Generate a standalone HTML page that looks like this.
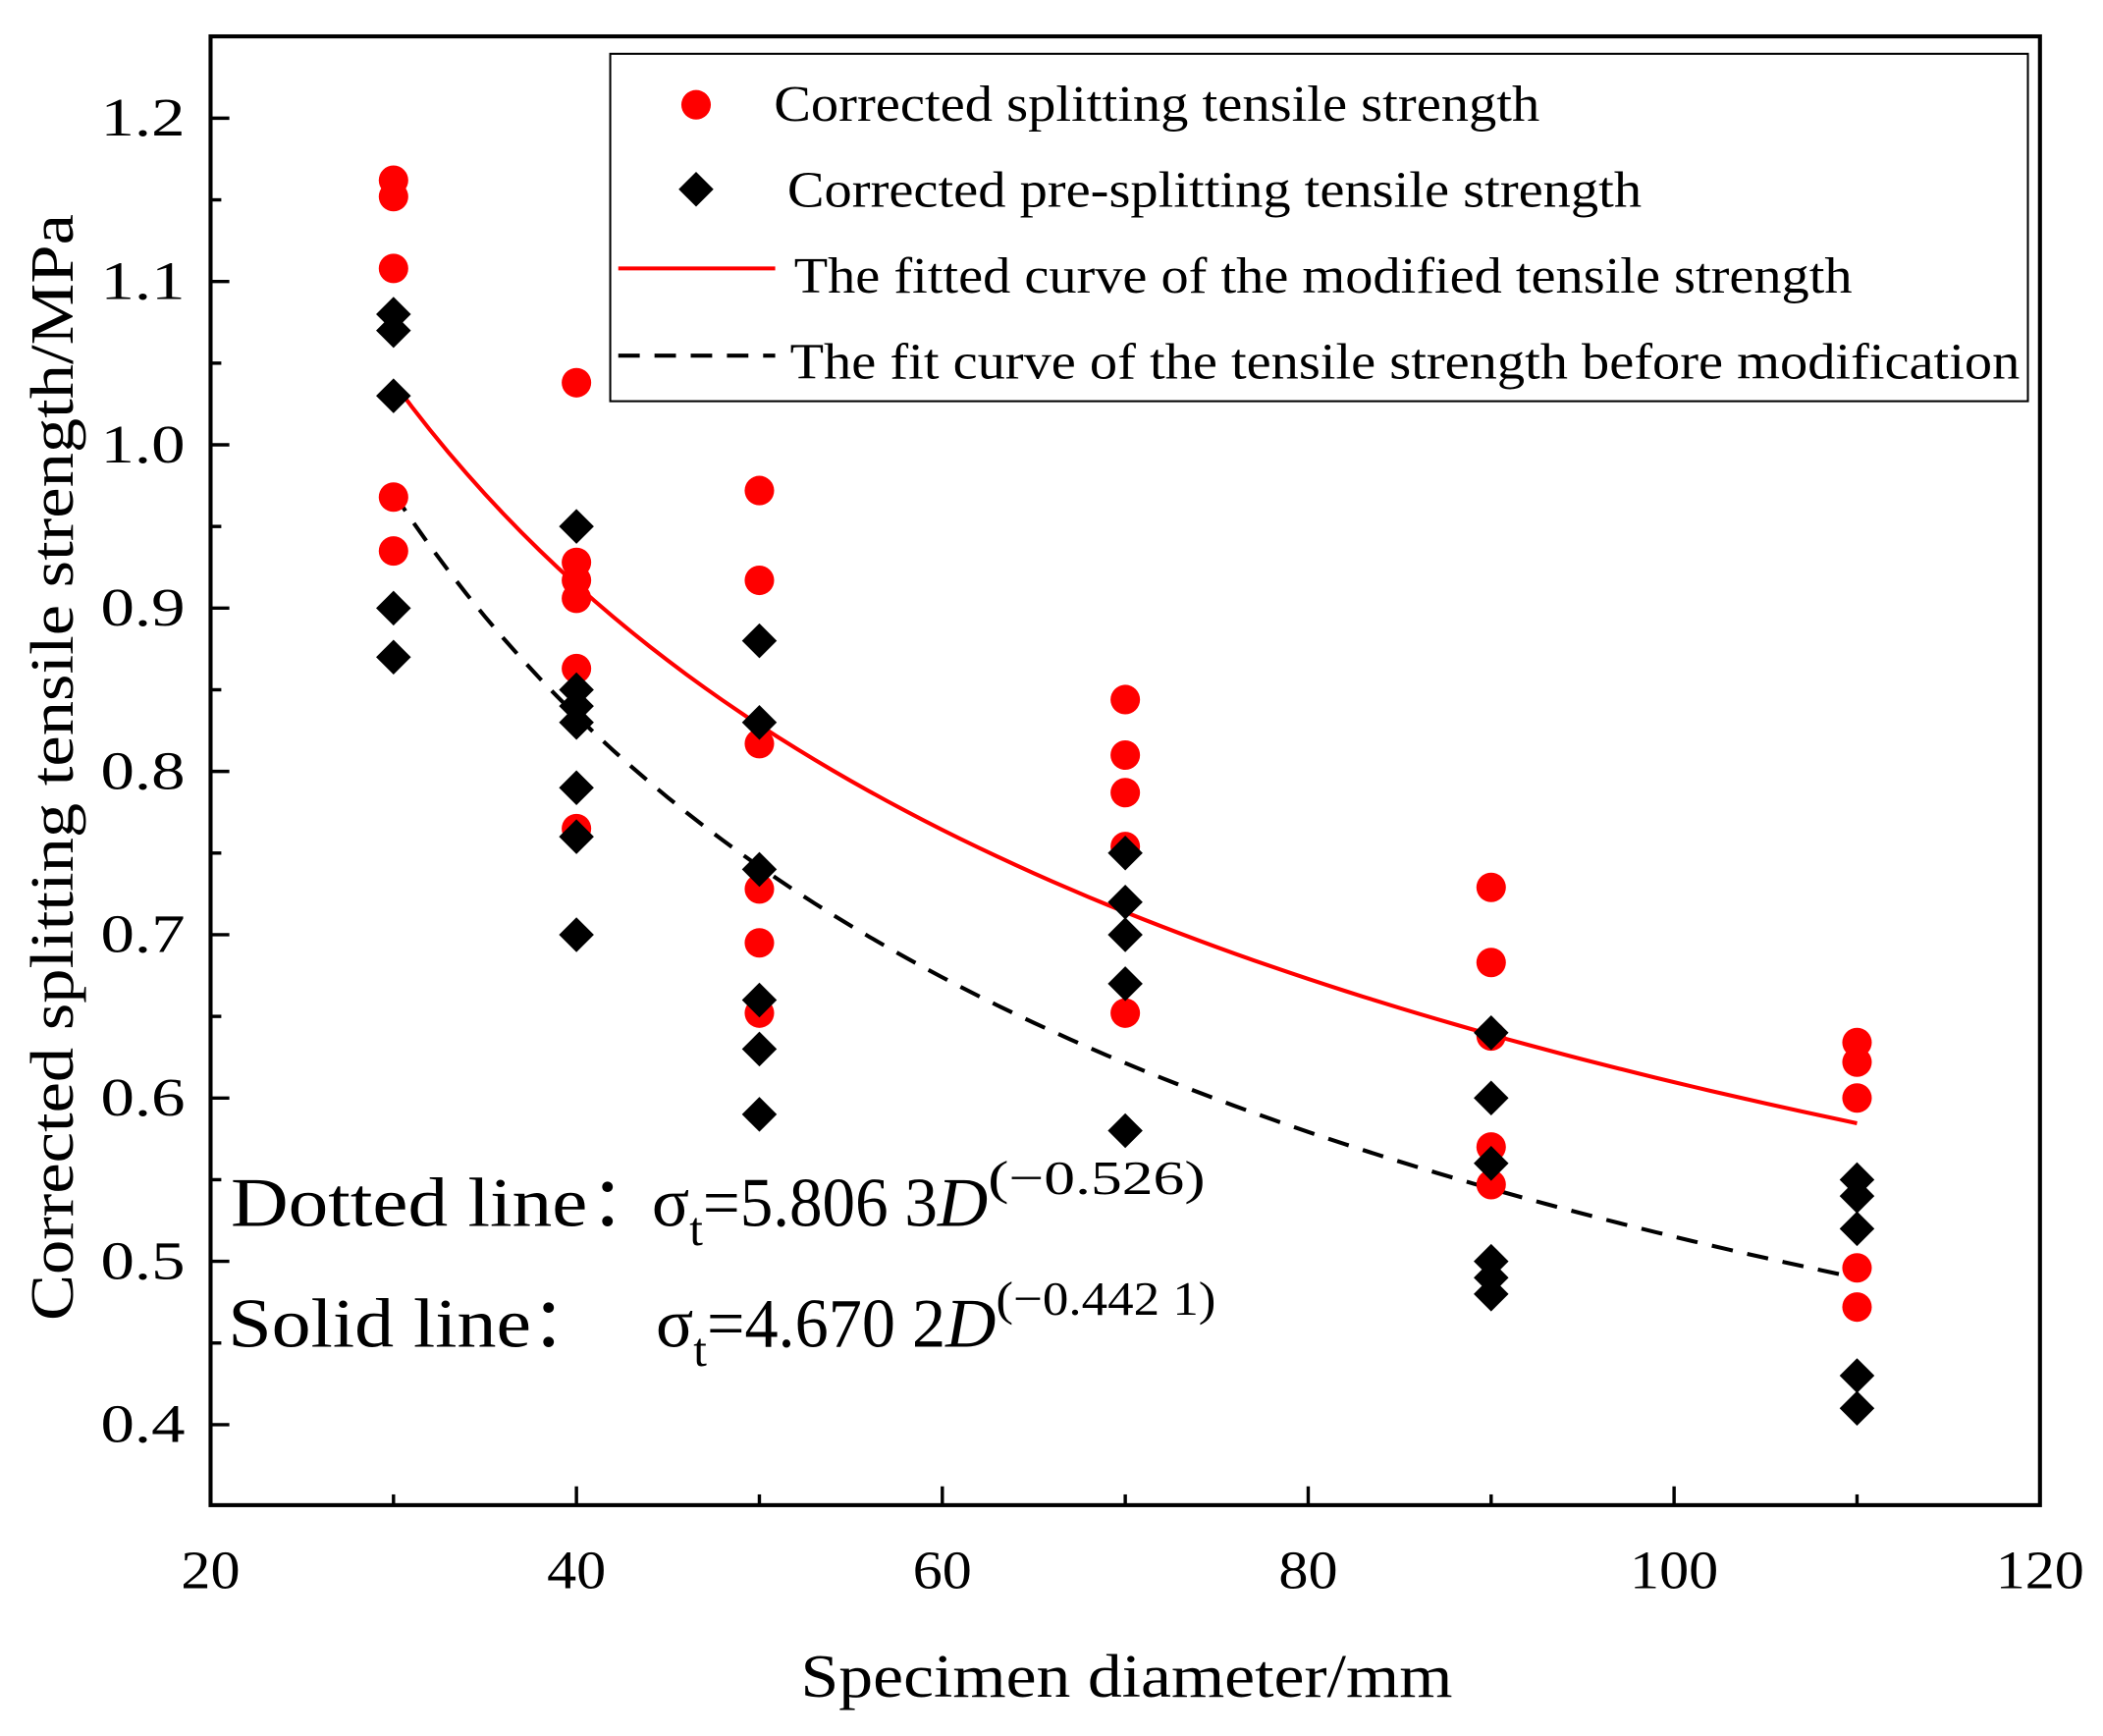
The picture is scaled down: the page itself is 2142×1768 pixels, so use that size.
<!DOCTYPE html>
<html><head><meta charset="utf-8"><style>html,body{margin:0;padding:0;background:#fff}svg{display:block}text{font-family:"Liberation Serif",serif;fill:#000}</style></head>
<body>
<svg id="chart" width="2142" height="1768" viewBox="0 0 1568 1294" xmlns="http://www.w3.org/2000/svg">
<rect width="1568" height="1294" fill="#fff"/>
<g id="plot"></g>
<g>
<text x="172" y="914" font-size="52" textLength="266" lengthAdjust="spacingAndGlyphs">Dotted line</text>
<text x="440" y="914" font-size="52">：</text>
<text x="486" y="914" font-size="52">σ<tspan font-size="36" dy="14">t</tspan><tspan dy="-14" textLength="175" lengthAdjust="spacingAndGlyphs">=5.806 3</tspan><tspan font-style="italic">D</tspan><tspan font-size="36" dy="-24" textLength="162" lengthAdjust="spacingAndGlyphs">(−0.526)</tspan></text>
<text x="170" y="1004" font-size="52" textLength="226" lengthAdjust="spacingAndGlyphs">Solid line</text>
<text x="396" y="1004" font-size="52">：</text>
<text x="489" y="1004" font-size="52">σ<tspan font-size="36" dy="14">t</tspan><tspan dy="-14" textLength="178" lengthAdjust="spacingAndGlyphs">=4.670 2</tspan><tspan font-style="italic">D</tspan><tspan font-size="36" dy="-24" textLength="164" lengthAdjust="spacingAndGlyphs">(−0.442 1)</tspan></text>
</g>
</svg>
<script>
const xs = [30,40,50,70,90,110];
const redVals = [[1.162,1.152,1.108,0.968,0.935],[1.038,0.928,0.917,0.906,0.863,0.765],[0.972,0.917,0.817,0.728,0.695,0.652],[0.844,0.810,0.787,0.754,0.652],[0.729,0.683,0.638,0.570,0.547],[0.634,0.622,0.600,0.496,0.472]];
const blackVals = [[1.08,1.07,1.03,0.90,0.87],[0.95,0.85,0.84,0.83,0.79,0.76,0.70],[0.88,0.83,0.74,0.66,0.63,0.59],[0.75,0.72,0.70,0.67,0.58],[0.64,0.60,0.56,0.50,0.49,0.48],[0.55,0.54,0.52,0.43,0.41]];
const solidFit = [4.6702,-0.4421];
const dashFit = [5.8063,-0.526];
const xTicks = [20,40,60,80,100,120];
const yTicks = [0.4,0.5,0.6,0.7,0.8,0.9,1.0,1.1,1.2];

const NS='http://www.w3.org/2000/svg';
const g=document.getElementById('plot');
const L=157,R=1521,T=27,B=1122;
const X=v=>L+(v-20)*(R-L)/100;
const Y=v=>88+(1.2-v)*1217.5;
function mk(tag,attrs,parent){const e=document.createElementNS(NS,tag);for(const k in attrs)e.setAttribute(k,attrs[k]);(parent||g).appendChild(e);return e;}

xTicks.forEach(t=>{
  const l=mk('line',{x1:X(t),x2:X(t),y1:B,y2:B-14,stroke:'#000','stroke-width':2.5});
  
  
  if(t<120){
    const m=mk('line',{x1:X(t+10),x2:X(t+10),y1:B,y2:B-8,stroke:'#000','stroke-width':2.5});
    
    
  }
  const s=String(t);
  const tx=mk('text',{x:X(t),y:B+62,'font-size':40,'text-anchor':'middle',textLength:s.length>2?66:44,lengthAdjust:'spacingAndGlyphs'});
  tx.textContent=s;
  
  
});
yTicks.forEach(t=>{
  const l=mk('line',{x1:L,x2:L+14,y1:Y(t),y2:Y(t),stroke:'#000','stroke-width':2.5});
  
  
  const m=mk('line',{x1:L,x2:L+8,y1:Y(t+0.05),y2:Y(t+0.05),stroke:'#000','stroke-width':2.5});
  
  
  const tx=mk('text',{x:L-19,y:Y(t)+13,'font-size':40,'text-anchor':'end',textLength:63,lengthAdjust:'spacingAndGlyphs'});
  tx.textContent=t.toFixed(1);
  
  
});

function curve(p){let d='';for(let x=30;x<=110.001;x+=1){const y=p[0]*Math.pow(x,p[1]);d+=(d?'L':'M')+X(x).toFixed(2)+','+Y(y).toFixed(2);}return d;}
const c1=mk('path',{d:curve(solidFit),fill:'none',stroke:'#f00','stroke-width':3});


const c2=mk('path',{d:curve(dashFit),fill:'none',stroke:'#000','stroke-width':3,'stroke-dasharray':'16,11'});



function diamond(cx,cy,s){return `M${cx},${cy-s}L${cx+s},${cy}L${cx},${cy+s}L${cx-s},${cy}Z`;}
xs.forEach((x,i)=>{
  redVals[i].forEach(v=>{
    const c=mk('circle',{cx:X(x),cy:Y(v),r:11,fill:'#f00'});
    
    
  });
});
xs.forEach((x,i)=>{
  blackVals[i].forEach(v=>{
    const p=mk('path',{d:diamond(X(x),Y(v),13),fill:'#000'});
    
    
  });
});

const fr=mk('rect',{x:L,y:T,width:R-L,height:B-T,fill:'none',stroke:'#000','stroke-width':3});



const lg=mk('g',{});


mk('rect',{x:455,y:40,width:1057,height:259,fill:'#fff',stroke:'#000','stroke-width':1.5},lg);
mk('circle',{cx:519,cy:78,r:11,fill:'#f00'},lg);
mk('path',{d:diamond(519,141,13),fill:'#000'},lg);
mk('line',{x1:461,x2:578,y1:200,y2:200,stroke:'#f00','stroke-width':3},lg);
mk('line',{x1:461,x2:578,y1:265,y2:265,stroke:'#000','stroke-width':3,'stroke-dasharray':'16,11'},lg);
[['Corrected splitting tensile strength',577,90,571],['Corrected pre-splitting tensile strength',587,154,637],['The fitted curve of the modified tensile strength',592,218,789],['The fit curve of the tensile strength before modification',589,282,917]].forEach(a=>{
  const t=mk('text',{x:a[1],y:a[2],'font-size':38,textLength:a[3],lengthAdjust:'spacingAndGlyphs'},lg);
  t.textContent=a[0];
  
  
});

const yt=mk('text',{x:0,y:0,'font-size':46,'text-anchor':'middle',textLength:825,lengthAdjust:'spacingAndGlyphs',transform:'translate(54,572) rotate(-90)'});
yt.textContent='Corrected splitting tensile strength/MPa';


const xt=mk('text',{x:840,y:1265,'font-size':46,'text-anchor':'middle',textLength:486,lengthAdjust:'spacingAndGlyphs'});
xt.textContent='Specimen diameter/mm';


</script>
</body></html>
